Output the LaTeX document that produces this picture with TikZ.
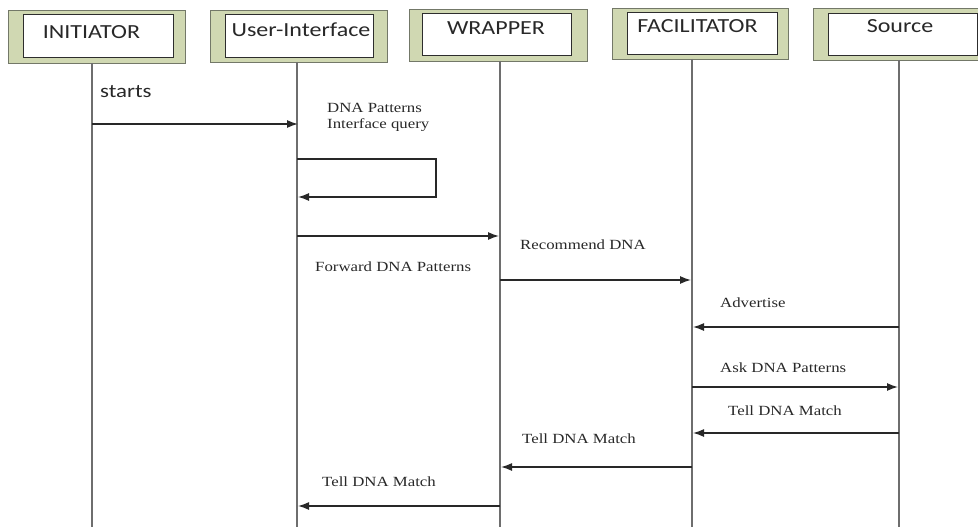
\documentclass[tikz,border=0pt]{standalone}
\usepackage{xcolor}
\usepackage{fontspec}
\setmainfont{Liberation Serif}[FakeStretch=1.2]
\newfontfamily\boxfont{Carlito}[FakeStretch=1.2]
\usepackage{tikz}
\usetikzlibrary{arrows.meta, positioning}
\definecolor{boxolive}{RGB}{208,216,178}
\definecolor{framegray}{RGB}{115,120,104}
\definecolor{linegray}{RGB}{45,45,45}
\definecolor{lifegray}{RGB}{110,110,110}
\definecolor{arrowgray}{RGB}{40,40,40}
\definecolor{textgray}{RGB}{40,40,40}

\begin{document}
\begin{tikzpicture}[
  x=1pt, y=-1pt,
  outer/.style={rectangle, draw=framegray, fill=boxolive, line width=1.3pt, anchor=north west, inner sep=0pt, minimum height=52pt},
  inner/.style={rectangle, draw=linegray, fill=white, line width=1.3pt, anchor=north west, inner sep=0pt, minimum height=43pt},
  title/.style={font=\boxfont\fontsize{20}{24}\selectfont, text=textgray, anchor=base, inner sep=0pt},
  msgtext/.style={font=\fontsize{14}{16}\selectfont, text=textgray, anchor=base west, inner sep=0pt, align=left},
  life/.style={draw=lifegray, line width=1.3pt},
  arrow/.style={-{Latex[length=11pt, width=8pt]}, line width=1.4pt, draw=arrowgray}
]
\useasboundingbox (0,0) rectangle (978,527);

% participant boxes
\node[outer, minimum width=177pt, minimum height=53pt] (initBox) at (8,10) {};
\node[inner, minimum width=150pt] (initIn) at (23,14) {};
\node[title] (initTxt) at (91.5,39) {INITIATOR};

\node[outer, minimum width=177pt] (uiBox) at (210,10) {};
\node[inner, minimum width=148pt] (uiIn) at (225,14) {};
\node[title] (uiTxt) at (301,37) {User-Interface};

\node[outer, minimum width=178pt] (wrapBox) at (409,9) {};
\node[inner, minimum width=149pt, minimum height=42pt] (wrapIn) at (422,13) {};
\node[title] (wrapTxt) at (496,35) {WRAPPER};

\node[outer, minimum width=176pt, minimum height=51pt] (facBox) at (612,8) {};
\node[inner, minimum width=150pt, minimum height=42pt] (facIn) at (627,12) {};
\node[title] (facTxt) at (697.5,33) {FACILITATOR};

\node[outer, minimum width=175pt] (srcBox) at (813,8) {};
\node[inner, minimum width=149pt, minimum height=42pt] (srcIn) at (828,13) {};
\node[title] (srcTxt) at (900,33) {Source};

% lifelines
\foreach \nm/\x/\y in {init/92/63, ui/297/62, wrap/500/61, fac/692/59, src/899/60} {
  \coordinate (\nm Top) at (\x,\y);
  \coordinate (\nm Bot) at (\x,527);
  \draw[life] (\nm Top) -- (\nm Bot);
}

% message ends
\foreach \nm/\x/\y in {startA/92/124, startB/298/124,
  loopA/297/159, loopB/436/159, loopC/436/197, loopD/298/197,
  fwdA/297/236, fwdB/499/236, recA/500/280, recB/691/280,
  advA/899/327, advB/693/327, askA/692/387, askB/898/387,
  tellA/899/433, tellB/693/433, tellC/692/467, tellD/501/467,
  tellE/500/506, tellF/298/506}
  \coordinate (\nm) at (\x,\y);

% labels
\node[font=\boxfont\fontsize{19}{22}\selectfont, text=textgray, anchor=base west, inner sep=0pt] (startsTxt) at (100,97) {starts};
\node[msgtext, anchor=north west] (queryTxt) at (327,102.7) {DNA Patterns\\Interface query};
\node[msgtext] (fwdTxt) at (315,271) {Forward DNA Patterns};
\node[msgtext] (recTxt) at (520,249) {Recommend DNA};
\node[msgtext] (advTxt) at (720,307) {Advertise};
\node[msgtext] (askTxt) at (720,372) {Ask DNA Patterns};
\node[msgtext] (tellSrcTxt) at (728,415) {Tell DNA Match};
\node[msgtext] (tellFacTxt) at (522,443) {Tell DNA Match};
\node[msgtext] (tellWrapTxt) at (322,486) {Tell DNA Match};

% messages
\draw[arrow] (startA) -- (startB);
\draw[arrow] (loopA) -- (loopB) -- (loopC) -- (loopD);
\draw[arrow] (fwdA) -- (fwdB);
\draw[arrow] (recA) -- (recB);
\draw[arrow] (advA) -- (advB);
\draw[arrow] (askA) -- (askB);
\draw[arrow] (tellA) -- (tellB);
\draw[arrow] (tellC) -- (tellD);
\draw[arrow] (tellE) -- (tellF);
\end{tikzpicture}
\end{document}
